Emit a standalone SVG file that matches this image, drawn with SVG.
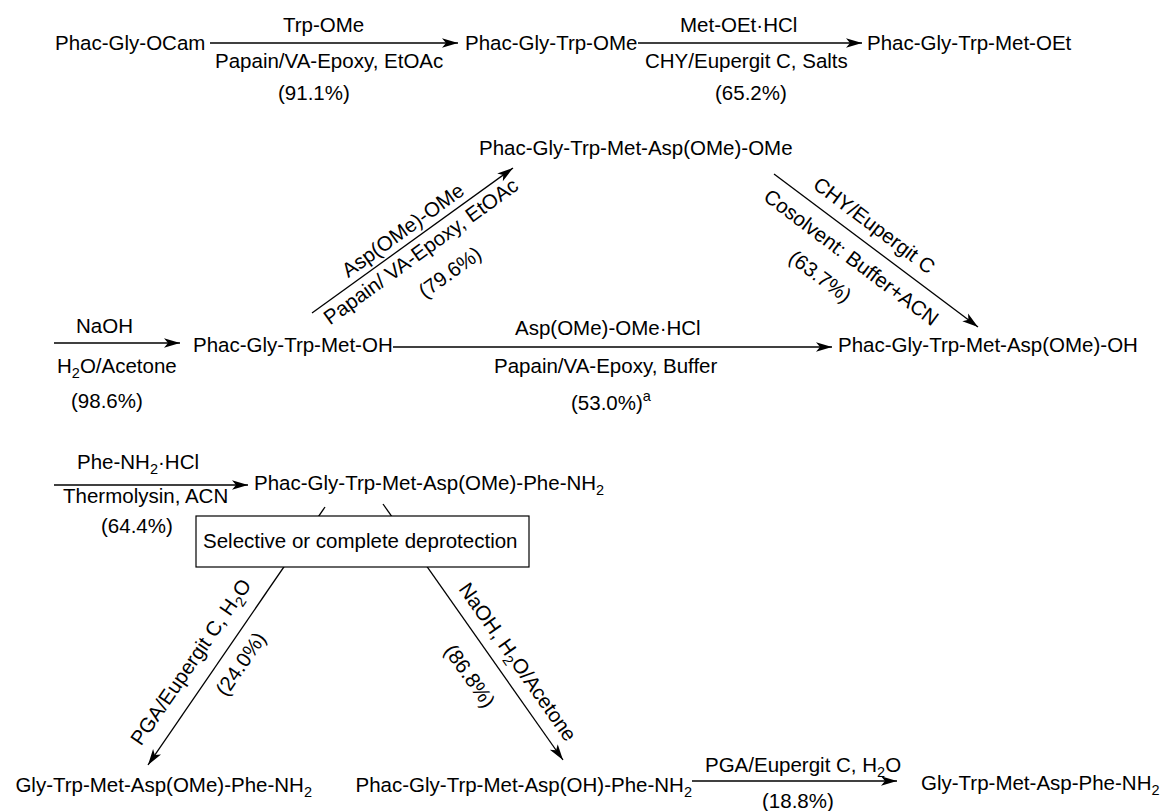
<svg xmlns="http://www.w3.org/2000/svg" width="1165" height="811" viewBox="0 0 1165 811">
<style>
text{font-family:"Liberation Sans",Arial,sans-serif;font-size:20.5px;fill:#000}
.ln{stroke:#000;stroke-width:1.3;fill:none}
.ar{marker-end:url(#ah)}
.sub{font-size:14.5px}
.mid{text-anchor:middle}
.end{text-anchor:end}
</style>
<defs>
<marker id="ah" markerUnits="userSpaceOnUse" markerWidth="20" markerHeight="12" viewBox="-17 -6 18 12" refX="0" refY="0" orient="auto">
<path d="M0,0 L-16,-4.8 L-12,0 L-16,4.8 Z" fill="#000"/>
</marker>
</defs>
<rect width="1165" height="811" fill="#fff"/>
<g id="connectors">
<line class="ln ar" x1="210" y1="43" x2="458" y2="43"/>
<line class="ln ar" x1="638" y1="43" x2="862" y2="43"/>
<line class="ln ar" x1="312" y1="313" x2="513" y2="168"/>
<line class="ln ar" x1="774" y1="174" x2="978" y2="327"/>
<line class="ln ar" x1="54" y1="343" x2="180" y2="343"/>
<line class="ln ar" x1="393" y1="347" x2="832" y2="347"/>
<line class="ln ar" x1="54" y1="485" x2="248" y2="485"/>
<line class="ln ar" x1="325" y1="507" x2="148" y2="765"/>
<line class="ln ar" x1="383" y1="504" x2="563" y2="760"/>
<line class="ln ar" x1="692" y1="781" x2="897" y2="781"/>
</g>
<g id="labels">
<text x="283" y="32">Trp-OMe</text>
<text x="215" y="68">Papain/VA-Epoxy, EtOAc</text>
<text x="278" y="100">(91.1%)</text>
<text x="680" y="32">Met-OEt·HCl</text>
<text x="645" y="68">CHY/Eupergit C, Salts</text>
<text x="715" y="100">(65.2%)</text>
<text class="mid" transform="translate(407,236) rotate(-35.8)">Asp(OMe)-OMe</text>
<text class="mid" transform="translate(425,257) rotate(-35.8)">Papain/ VA-Epoxy, EtOAc</text>
<text class="mid" transform="translate(454,278) rotate(-35.8)">(79.6%)</text>
<text class="mid" transform="translate(870,231) rotate(36.9)">CHY/Eupergit C</text>
<text class="mid" transform="translate(847,263) rotate(36.9)">Cosolvent: Buffer+ACN</text>
<text class="mid" transform="translate(816,282) rotate(36.9)">(63.7%)</text>
<text x="76" y="333">NaOH</text>
<text x="57" y="373">H<tspan class="sub" dy="5">2</tspan><tspan dy="-5">O/Acetone</tspan></text>
<text x="71" y="408">(98.6%)</text>
<text x="515" y="335">Asp(OMe)-OMe·HCl</text>
<text x="494" y="373">Papain/VA-Epoxy, Buffer</text>
<text x="571" y="410">(53.0%)<tspan class="sub" dy="-9">a</tspan></text>
<text x="77" y="469">Phe-NH<tspan class="sub" dy="5">2</tspan><tspan dy="-5">·HCl</tspan></text>
<text x="63" y="503">Thermolysin, ACN</text>
<text x="101" y="533">(64.4%)</text>
<text class="mid" transform="translate(196.5,666) rotate(-55.5)">PGA/Eupergit C, H<tspan class="sub" dy="5">2</tspan><tspan dy="-5">O</tspan></text>
<text class="mid" transform="translate(246.5,668) rotate(-55.5)">(24.0%)</text>
<text class="mid" transform="translate(512,666) rotate(54.9)">NaOH, H<tspan class="sub" dy="5">2</tspan><tspan dy="-5">O/Acetone</tspan></text>
<text class="mid" transform="translate(464,680) rotate(54.9)">(86.8%)</text>
<text x="705" y="772">PGA/Eupergit C, H<tspan class="sub" dy="5">2</tspan><tspan dy="-5">O</tspan></text>
<text x="762" y="808">(18.8%)</text>
</g>
<g id="n1"><text x="55" y="50">Phac-Gly-OCam</text></g>
<g id="n2"><text x="465" y="50">Phac-Gly-Trp-OMe</text></g>
<g id="n3"><text x="867" y="50">Phac-Gly-Trp-Met-OEt</text></g>
<g id="n4"><text x="479" y="155">Phac-Gly-Trp-Met-Asp(OMe)-OMe</text></g>
<g id="n5"><text x="193" y="352">Phac-Gly-Trp-Met-OH</text></g>
<g id="n6"><text x="838" y="352">Phac-Gly-Trp-Met-Asp(OMe)-OH</text></g>
<g id="n7"><text x="254" y="490">Phac-Gly-Trp-Met-Asp(OMe)-Phe-NH<tspan class="sub" dy="5">2</tspan></text></g>
<g id="box"><rect x="196" y="516" width="333" height="51" fill="#fff" stroke="#000" stroke-width="1.2"/><text x="203" y="548">Selective or complete deprotection</text></g>
<g id="n8"><text class="end" x="312" y="792">Gly-Trp-Met-Asp(OMe)-Phe-NH<tspan class="sub" dy="5">2</tspan></text></g>
<g id="n9"><text class="end" x="692" y="792">Phac-Gly-Trp-Met-Asp(OH)-Phe-NH<tspan class="sub" dy="5">2</tspan></text></g>
<g id="n10"><text x="921" y="790">Gly-Trp-Met-Asp-Phe-NH<tspan class="sub" dy="5">2</tspan></text></g>
</svg>
